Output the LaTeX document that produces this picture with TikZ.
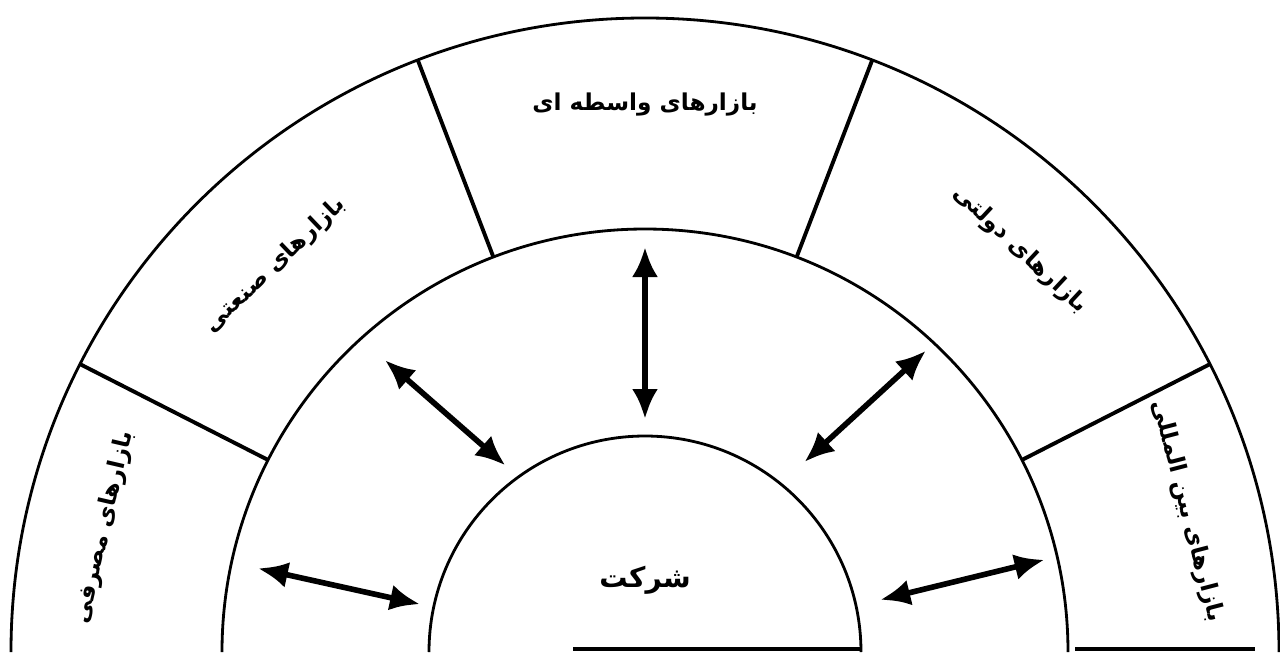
\documentclass[tikz,border=0pt]{standalone}
\usepackage{fontspec}
\newfontfamily\arabicfont[Script=Arabic]{DejaVu Sans}
\TeXXeTstate=1
\usetikzlibrary{arrows.meta}

\tikzset{
    ring/.style={line width=0.8pt},
    divider/.style={line width=1.1pt},
    flow/.style={line width=1.6pt, {Latex[length=3mm,width=2.6mm]}-{Latex[length=3mm,width=2.6mm]}},
    market/.style={font=\arabicfont\bfseries\fontsize{6.6}{8}\selectfont, inner sep=1pt}
}

\begin{document}
\begin{tikzpicture}[thick, >=latex]
        \useasboundingbox (-6.45,0) rectangle (6.35,6.52);

        % three half rings
        \draw[ring] (2.16,0) arc (0:180:2.16);
        \draw[ring] (4.23,0) arc (0:180:4.23);
        \draw[ring] (6.34,0) arc (0:180:6.34);
        \draw[line width=1pt] (-0.72,0.03) -- (2.16,0.03);
        \draw[line width=1pt] (4.30,0.03) -- (6.10,0.03);

        % dividers of the outer ring
        \foreach \a in {27, 69, 111, 153}
            \draw[divider] (\a:4.23) -- (\a:6.34);

        \node (firm) [market, font=\arabicfont\bfseries\fontsize{8}{10}\selectfont] at (0,0.72) {\beginR شرکت\endR};

        \node (reseller) [market] at (90:5.47) {\beginR بازارهای واسطه ای\endR};
        \node (industrial) [market, rotate=43.7] at (133.7:5.35) {\beginR بازارهای صنعتی\endR};
        \node (government) [market, rotate=-43] at (47:5.50) {\beginR بازارهای دولتی\endR};
        \node (consumer) [market, rotate=77] at (167:5.55) {\beginR بازارهای مصرفی\endR};
        \node (global) [market, rotate=-75.4] at (14.6:5.60) {\beginR بازارهای بین المللی\endR};

        \coordinate (o1) at (90:4.05);     \coordinate (i1) at (90:2.33);
        \coordinate (o2) at (131.7:3.91);  \coordinate (i2) at (126.8:2.33);
        \coordinate (o3) at (47:4.12);     \coordinate (i3) at (50:2.48);
        \coordinate (o4) at (167.8:3.96);  \coordinate (i4) at (168:2.30);
        \coordinate (o5) at (13:4.10);     \coordinate (i5) at (12.5:2.41);

        \draw[flow] (o1) -- (i1);
        \draw[flow] (o2) -- (i2);
        \draw[flow] (o3) -- (i3);
        \draw[flow] (o4) -- (i4);
        \draw[flow] (o5) -- (i5);
    \end{tikzpicture}
\end{document}
